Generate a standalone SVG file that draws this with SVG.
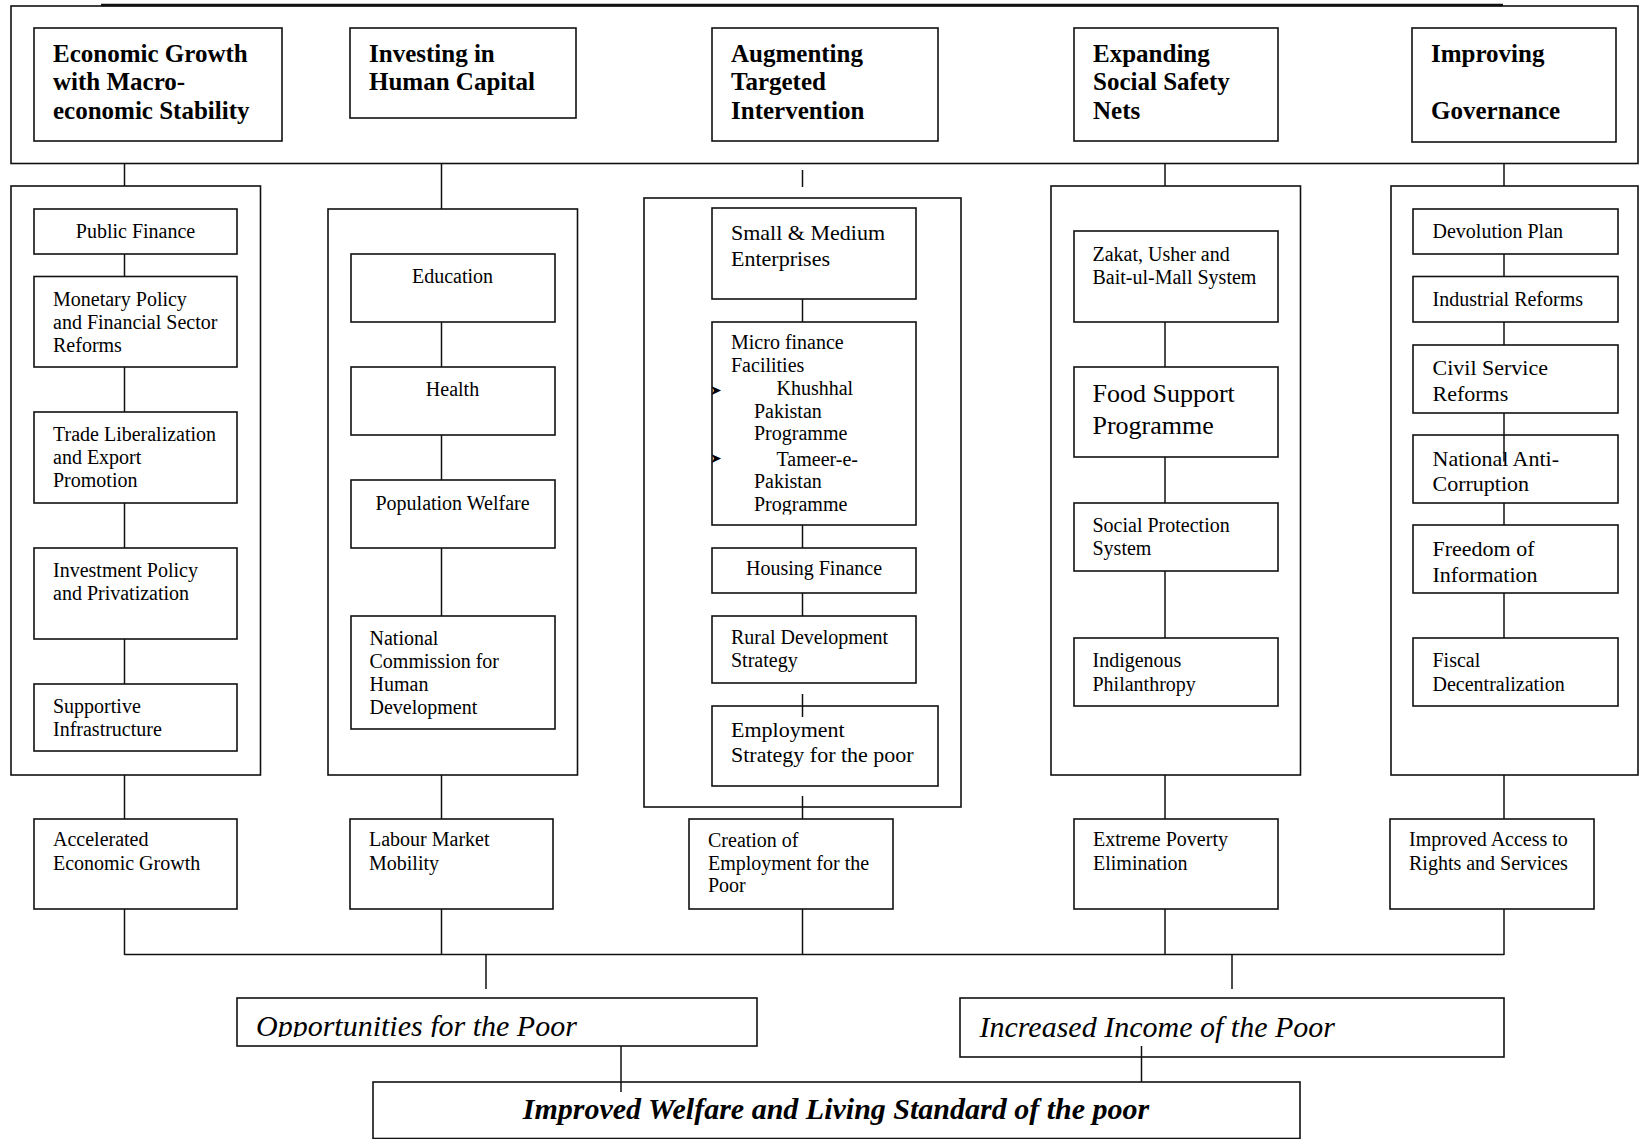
<svg xmlns="http://www.w3.org/2000/svg" width="1639" height="1139" viewBox="0 0 1639 1139">
<style>
.b{fill:#fff;stroke:#111;stroke-width:1.6}
.c line{stroke:#111;stroke-width:1.5}
text{font-family:"Liberation Serif","Times New Roman",serif;font-size:20px;fill:#000}
.h{font-weight:bold;font-size:25px}
.l{font-size:22px}
.xl{font-size:26px}
.it{font-style:italic;font-size:30px}
.bi{font-weight:bold;font-style:italic;font-size:30px}
.m{text-anchor:middle}
.bul{font-family:"DejaVu Sans",sans-serif;font-size:14px}
</style>
<defs>
<clipPath id="clipMf"><rect x="700" y="300" width="230" height="214.5"/></clipPath>
<clipPath id="clipOp"><rect x="237" y="998" width="520" height="39"/></clipPath>
<clipPath id="clipBul"><rect x="711" y="322" width="205" height="203"/></clipPath>
</defs>

<g id="top-container">
<rect class="b" x="11" y="6" width="1627" height="157.5"/>
<line x1="101" y1="5" x2="1503" y2="5" stroke="#111" stroke-width="2.6"/>
</g>

<g id="h1"><rect class="b" x="34" y="28" width="248" height="113"/>
<text class="h" x="53" y="61.5">Economic Growth</text><text class="h" x="53" y="90">with Macro-</text><text class="h" x="53" y="118.5">economic Stability</text></g>
<g id="h2"><rect class="b" x="350" y="28" width="226" height="90"/>
<text class="h" x="369" y="61.5">Investing in</text><text class="h" x="369" y="90">Human Capital</text></g>
<g id="h3"><rect class="b" x="712" y="28" width="226" height="113"/>
<text class="h" x="731" y="61.5">Augmenting</text><text class="h" x="731" y="90">Targeted</text><text class="h" x="731" y="118.5">Intervention</text></g>
<g id="h4"><rect class="b" x="1074" y="28" width="204" height="113"/>
<text class="h" x="1093" y="61.5">Expanding</text><text class="h" x="1093" y="90">Social Safety</text><text class="h" x="1093" y="118.5">Nets</text></g>
<g id="h5"><rect class="b" x="1412" y="28" width="204" height="114"/>
<text class="h" x="1431" y="61.5">Improving</text><text class="h" x="1431" y="118.5">Governance</text></g>

<g id="col1"><rect class="b" x="11" y="186" width="249.5" height="589"/></g>
<g id="col2"><rect class="b" x="328" y="209" width="249.5" height="566"/></g>
<g id="col3"><rect class="b" x="644" y="198" width="317" height="609"/></g>
<g id="col4"><rect class="b" x="1051" y="186" width="249.5" height="589"/></g>
<g id="col5"><rect class="b" x="1391" y="186" width="247" height="589"/></g>

<g id="pf"><rect class="b" x="34" y="209" width="203" height="45"/><text class="m" x="135.5" y="237.5">Public Finance</text></g>
<g id="mp"><rect class="b" x="34" y="276.5" width="203" height="90.5"/><text x="53" y="305.5">Monetary Policy</text><text x="53" y="328.5">and Financial Sector</text><text x="53" y="351.5">Reforms</text></g>
<g id="tl"><rect class="b" x="34" y="412" width="203" height="91"/><text x="53" y="440.5">Trade Liberalization</text><text x="53" y="463.5">and Export</text><text x="53" y="486.5">Promotion</text></g>
<g id="ip"><rect class="b" x="34" y="548" width="203" height="91"/><text x="53" y="576.5">Investment Policy</text><text x="53" y="599.5">and Privatization</text></g>
<g id="si"><rect class="b" x="34" y="684" width="203" height="67"/><text x="53" y="712.5">Supportive</text><text x="53" y="735.5">Infrastructure</text></g>

<g id="ed"><rect class="b" x="351" y="254" width="204" height="68"/><text class="m" x="452.5" y="282.5">Education</text></g>
<g id="he"><rect class="b" x="351" y="367" width="204" height="68"/><text class="m" x="452.5" y="395.5">Health</text></g>
<g id="pw"><rect class="b" x="351" y="480" width="204" height="68"/><text class="m" x="452.5" y="509.5">Population Welfare</text></g>
<g id="nc"><rect class="b" x="351" y="616" width="204" height="113"/><text x="369.5" y="644.5">National</text><text x="369.5" y="667.5">Commission for</text><text x="369.5" y="690.5">Human</text><text x="369.5" y="713.5">Development</text></g>

<g id="sme"><rect class="b" x="712" y="208" width="204" height="91"/><text class="l" x="731" y="239.5">Small &amp; Medium</text><text class="l" x="731" y="266">Enterprises</text></g>
<g id="mf"><rect class="b" x="712" y="322" width="204" height="203"/>
<text x="731" y="349">Micro finance</text><text x="731" y="371.5">Facilities</text>
<text class="bul" x="710" y="394.5" clip-path="url(#clipBul)">➤</text><text x="776.5" y="395">Khushhal</text>
<text x="754" y="417.5">Pakistan</text><text x="754" y="440">Programme</text>
<text class="bul" x="710" y="463" clip-path="url(#clipBul)">➤</text><text x="776.5" y="465.5">Tameer-e-</text>
<text x="754" y="488">Pakistan</text><text x="754" y="511" clip-path="url(#clipMf)">Programme</text></g>
<g id="hf"><rect class="b" x="712" y="548" width="204" height="45"/><text class="m" x="814" y="575">Housing Finance</text></g>
<g id="rd"><rect class="b" x="712" y="616" width="204" height="67"/><text x="731" y="644">Rural Development</text><text x="731" y="666.5">Strategy</text></g>
<g id="es"><rect class="b" x="712" y="706" width="226" height="80"/><text class="l" x="731" y="736.5">Employment</text><text class="l" x="731" y="761.5">Strategy for the poor</text></g>

<g id="zk"><rect class="b" x="1074" y="231" width="204" height="91"/><text x="1092.5" y="260.5">Zakat, Usher and</text><text x="1092.5" y="283.5">Bait-ul-Mall System</text></g>
<g id="fs"><rect class="b" x="1074" y="367" width="204" height="90"/><text class="xl" x="1092.5" y="402">Food Support</text><text class="xl" x="1092.5" y="433.5">Programme</text></g>
<g id="sp"><rect class="b" x="1074" y="503" width="204" height="68"/><text x="1092.5" y="531.5">Social Protection</text><text x="1092.5" y="554.5">System</text></g>
<g id="ind"><rect class="b" x="1074" y="638" width="204" height="68"/><text x="1092.5" y="666.5">Indigenous</text><text x="1092.5" y="690.5">Philanthropy</text></g>

<g id="dv"><rect class="b" x="1413" y="209" width="205" height="45"/><text x="1432.5" y="237.5">Devolution Plan</text></g>
<g id="ir"><rect class="b" x="1413" y="276.5" width="205" height="45.5"/><text x="1432.5" y="305.5">Industrial Reforms</text></g>
<g id="cs"><rect class="b" x="1413" y="345" width="205" height="68"/><text class="l" x="1432.5" y="374.5">Civil Service</text><text class="l" x="1432.5" y="400.5">Reforms</text></g>
<g id="na"><rect class="b" x="1413" y="435" width="205" height="68"/><text class="l" x="1432.5" y="465.5">National Anti-</text><text class="l" x="1432.5" y="491">Corruption</text></g>
<g id="fi"><rect class="b" x="1413" y="525" width="205" height="68"/><text class="l" x="1432.5" y="555.5">Freedom of</text><text class="l" x="1432.5" y="581.5">Information</text></g>
<g id="fd"><rect class="b" x="1413" y="638" width="205" height="68"/><text x="1432.5" y="666.5">Fiscal</text><text x="1432.5" y="690.5">Decentralization</text></g>

<g id="r1"><rect class="b" x="34" y="819" width="203" height="90"/><text x="53" y="846">Accelerated</text><text x="53" y="870">Economic Growth</text></g>
<g id="r2"><rect class="b" x="350" y="819" width="203" height="90"/><text x="369" y="846">Labour Market</text><text x="369" y="870">Mobility</text></g>
<g id="r3"><rect class="b" x="689" y="819" width="204" height="90"/><text x="708" y="846.5">Creation of</text><text x="708" y="869.5">Employment for the</text><text x="708" y="892">Poor</text></g>
<g id="r4"><rect class="b" x="1074" y="819" width="204" height="90"/><text x="1093" y="846">Extreme Poverty</text><text x="1093" y="870">Elimination</text></g>
<g id="r5"><rect class="b" x="1390" y="819" width="204" height="90"/><text x="1409" y="846">Improved Access to</text><text x="1409" y="870">Rights and Services</text></g>

<g id="opp"><rect class="b" x="237" y="998" width="520" height="48"/><text class="it" x="256" y="1036" clip-path="url(#clipOp)">Opportunities for the Poor</text></g>
<g id="inc"><rect class="b" x="960" y="998" width="544" height="59"/><text class="it" x="979.5" y="1036.5">Increased Income of the Poor</text></g>
<g id="welfare"><rect class="b" x="373" y="1082" width="927" height="56.5"/><text class="bi m" x="836" y="1119">Improved Welfare and Living Standard of the poor</text></g>

<g id="connectors" class="c">
<line x1="124.5" y1="163.5" x2="124.5" y2="186"/>
<line x1="124.5" y1="254" x2="124.5" y2="276.5"/>
<line x1="124.5" y1="367" x2="124.5" y2="412"/>
<line x1="124.5" y1="503" x2="124.5" y2="548"/>
<line x1="124.5" y1="639" x2="124.5" y2="684"/>
<line x1="124.5" y1="775" x2="124.5" y2="819"/>
<line x1="124.5" y1="909" x2="124.5" y2="955"/>
<line x1="441.5" y1="163.5" x2="441.5" y2="209"/>
<line x1="441.5" y1="322" x2="441.5" y2="367"/>
<line x1="441.5" y1="435" x2="441.5" y2="480"/>
<line x1="441.5" y1="548" x2="441.5" y2="616"/>
<line x1="441.5" y1="775" x2="441.5" y2="819"/>
<line x1="441.5" y1="909" x2="441.5" y2="955"/>
<line x1="802.5" y1="170" x2="802.5" y2="187"/>
<line x1="802.5" y1="299" x2="802.5" y2="322"/>
<line x1="802.5" y1="525" x2="802.5" y2="548"/>
<line x1="802.5" y1="593" x2="802.5" y2="616"/>
<line x1="802.5" y1="694" x2="802.5" y2="717"/>
<line x1="802.5" y1="796" x2="802.5" y2="819"/>
<line x1="802.5" y1="909" x2="802.5" y2="955"/>
<line x1="1165" y1="163.5" x2="1165" y2="186"/>
<line x1="1165" y1="322" x2="1165" y2="367"/>
<line x1="1165" y1="457" x2="1165" y2="503"/>
<line x1="1165" y1="571" x2="1165" y2="638"/>
<line x1="1165" y1="775" x2="1165" y2="819"/>
<line x1="1165" y1="909" x2="1165" y2="955"/>
<line x1="1504" y1="163.5" x2="1504" y2="186"/>
<line x1="1504" y1="254" x2="1504" y2="276.5"/>
<line x1="1504" y1="322" x2="1504" y2="345"/>
<line x1="1504" y1="413" x2="1504" y2="461.5"/>
<line x1="1504" y1="503" x2="1504" y2="525"/>
<line x1="1504" y1="593" x2="1504" y2="638"/>
<line x1="1504" y1="775" x2="1504" y2="819"/>
<line x1="1504" y1="909" x2="1504" y2="955"/>
<line x1="124.5" y1="954.5" x2="1504" y2="954.5"/>
<line x1="486" y1="954.5" x2="486" y2="989"/>
<line x1="1232" y1="954.5" x2="1232" y2="989"/>
<line x1="621" y1="1046" x2="621" y2="1092"/>
<line x1="1141.5" y1="1046" x2="1141.5" y2="1082"/>
</g>
</svg>
